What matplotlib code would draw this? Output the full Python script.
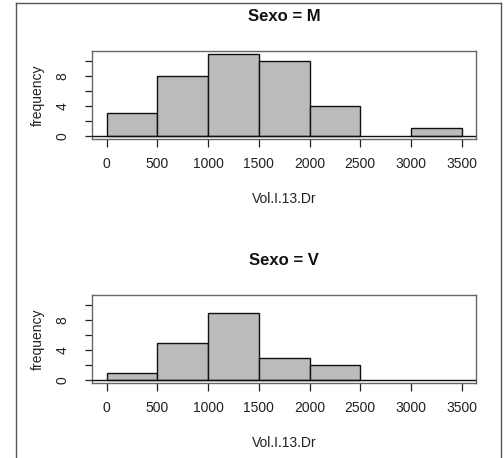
import matplotlib
matplotlib.use("Agg")
import matplotlib.pyplot as plt
from matplotlib.lines import Line2D

plt.rcParams['font.family'] = ['Liberation Sans', 'DejaVu Sans']

bins = [0, 500, 1000, 1500, 2000, 2500, 3000, 3500]
counts_M = [3, 8, 11, 10, 4, 0, 1]
counts_V = [1, 5, 9, 3, 2, 0, 0]
titles = ["Sexo = M", "Sexo = V"]
xlabel = "Vol.I.13.Dr"
ylabel = "frequency"
xticks = [0, 500, 1000, 1500, 2000, 2500, 3000, 3500]
yticks_major = [0, 4, 8]
yticks_minor = [2, 6, 10]

W, H = 504, 458
fig = plt.figure(figsize=(W / 100, H / 100), dpi=100)

def px_axes(left, top, right, bottom):
    return [left / W, 1 - bottom / H, (right - left) / W, (bottom - top) / H]

panels = [
    (px_axes(92.3, 50.5, 476, 139.1), counts_M, titles[0]),
    (px_axes(92.3, 294.5, 476, 383.3), counts_V, titles[1]),
]

fill = "#bbbbbb"
for rect, counts, title in panels:
    ax = fig.add_axes(rect)
    widths = [bins[i + 1] - bins[i] for i in range(len(counts))]
    for left, w, c in zip(bins[:-1], widths, counts):
        if c > 0:
            ax.bar(left, c, width=w, align='edge', color=fill,
                   edgecolor="#111111", linewidth=1.0, zorder=2)
    ax.axhline(0, color="#111111", linewidth=1.0, zorder=3)
    ax.set_xlim(-140, 3640)
    ax.set_ylim(-0.44, 11.44)
    for s in ax.spines.values():
        s.set_color("#666666")
        s.set_linewidth(1.0)
    ax.set_xticks(xticks)
    ax.set_xticklabels([str(t) for t in xticks])
    ax.set_yticks(yticks_major)
    ax.set_yticklabels([str(t) for t in yticks_major], rotation=90, va='center')
    ax.set_yticks(yticks_minor, minor=True)
    ax.tick_params(axis='x', direction='out', length=5.8, width=0.9,
                   color="#222222", labelsize=10, labelcolor="#222222", pad=7)
    ax.tick_params(axis='y', which='both', direction='out', length=5.2, width=0.9,
                   color="#222222", labelsize=10, labelcolor="#222222", pad=11)
    ax.tick_params(axis='y', which='minor', labelleft=False)
    ax.set_xlabel(xlabel, fontsize=10, color="#222222")
    ax.set_ylabel(ylabel, fontsize=10, color="#222222")
    hpx = (rect[3] * H)
    ax.xaxis.set_label_coords(0.5, -60 / hpx)
    ax.xaxis.label.set_va('center')
    ax.yaxis.set_label_coords((38 - 92.3) / 383.7, 0.5)
    ax.yaxis.label.set_va('center')
    ax.text(0.5, 1 + 34 / hpx, title, transform=ax.transAxes, ha='center',
            va='center', fontsize=12, fontweight='bold', color="#111111")

# outer frame (screenshot border)
def fx(x):
    return x / W

def fy(y):
    return 1 - y / H

frame_c = "#555555"
fig.add_artist(Line2D([fx(15.5), fx(15.5)], [fy(3), fy(470)], color=frame_c, lw=1.0,
                      transform=fig.transFigure))
fig.add_artist(Line2D([fx(15.5), fx(500.5)], [fy(3), fy(3)], color=frame_c, lw=1.0,
                      transform=fig.transFigure))
fig.add_artist(Line2D([fx(500.5), fx(500.5)], [fy(3), fy(470)], color=frame_c, lw=1.0,
                      transform=fig.transFigure))

fig.savefig("out.png", dpi=100)
